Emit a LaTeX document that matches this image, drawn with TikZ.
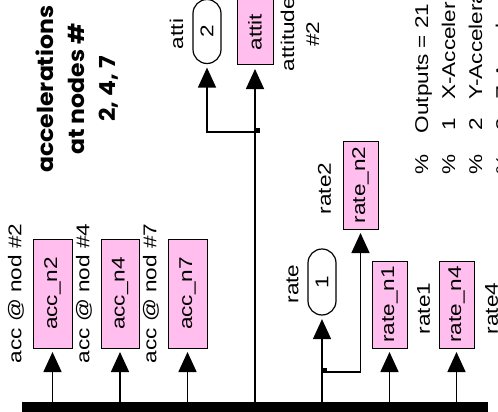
\documentclass[tikz,border=0pt]{standalone}
\usepackage{fontspec}
\usepackage{graphicx}
\setmainfont{Liberation Sans}
\newfontfamily\notefont{Poppins}
\usetikzlibrary{arrows.meta,calc}
\definecolor{gotopink}{RGB}{255,190,238}
\newcommand{\sx}[1]{\scalebox{1.22}[1]{#1}}
\newcommand{\tx}[1]{\scalebox{1.07}[1]{#1}}

\tikzset{
  goto/.style={draw,line width=1pt,fill=gotopink,rotate=90,inner sep=0pt,
    font=\fontsize{18.5}{22}\selectfont},
  outport/.style={draw,line width=1.2pt,rounded corners=14pt,rotate=90,inner sep=0pt,
    minimum width=64pt,minimum height=28pt,font=\fontsize{18.5}{22}\selectfont},
  lbl/.style={rotate=90,inner sep=0pt,font=\fontsize{18.5}{25}\selectfont},
  sig/.style={line width=1.5pt,-{Triangle[length=20pt,width=18pt]},shorten >=3.5pt},
  jdot/.style={fill=black,inner sep=0pt,minimum size=5pt,xshift=2pt,yshift=2pt}
}

\begin{document}
\begin{tikzpicture}[x=1pt,y=-1pt]
    \clip (0,0) rectangle (498,412);
    % bus
    \node[fill=black,minimum width=466pt,minimum height=11pt,inner sep=0pt] (bus) at (255,407.5) {};
    % goto blocks
    \node[goto,minimum width=109pt,minimum height=39pt] (accn2) at (52.5,293.5) {\sx{acc\_n2}};
    \node[goto,minimum width=109pt,minimum height=38pt] (accn4) at (120,293.5) {\sx{acc\_n4}};
    \node[goto,minimum width=109pt,minimum height=39pt] (accn7) at (187.5,293.5) {\sx{acc\_n7}};
    \node[goto,minimum width=66pt,minimum height=36pt] (attit) at (255,32) {\sx{attit}};
    \node[goto,minimum width=88pt,minimum height=35pt] (ratn2) at (360.5,185) {\sx{rate\_n2}};
    \node[goto,minimum width=87pt,minimum height=35pt] (ratn1) at (389.5,304.5) {\sx{rate\_n1}};
    \node[goto,minimum width=87pt,minimum height=35pt] (ratn4) at (456.5,304.5) {\sx{rate\_n4}};
    % outports
    \node[outport] (atti) at (207,31.5) {\sx{2}};
    \node[outport,minimum width=66pt] (rate) at (322,282) {\sx{1}};
    % labels
    \node[lbl] (lacc2) at (16,293.5) {\sx{acc @ nod \#2}};
    \node[lbl] (lacc4) at (84,293.5) {\sx{acc @ nod \#4}};
    \node[lbl] (lacc7) at (151,293.5) {\sx{acc @ nod \#7}};
    \node[lbl] (latti) at (176.5,34) {\sx{atti}};
    \node[lbl,align=center] (lattit) at (300,34) {\sx{attitude}\\\sx{\#2}};
    \node[lbl] (lrate) at (292.5,284) {\sx{rate}};
    \node[lbl] (lrat2) at (324.5,188.5) {\sx{rate2}};
    \node[lbl] (lrat1) at (423.5,308.5) {\sx{rate1}};
    \node[lbl] (lrat4) at (491.5,308.5) {\sx{rate4}};
    % note text
    \node[rotate=90,inner sep=0pt,align=center,font=\notefont\bfseries\fontsize{22}{31}\selectfont]
      (title) at (77,89) {\tx{accelerations}\\\tx{at nodes \#}\\\tx{2, 4, 7}};
    \node[lbl,anchor=base west] (out0) at (428,175) {\sx{\makebox[34pt][l]{\%}Outputs = 21}};
    \node[lbl,anchor=base west] (out1) at (455,175) {\sx{\makebox[36pt][l]{\%}\makebox[25.5pt][l]{1}X-Acceleration}};
    \node[lbl,anchor=base west] (out2) at (482,175) {\sx{\makebox[36pt][l]{\%}\makebox[25.5pt][l]{2}Y-Acceleration}};
    \node[lbl,anchor=base west] (out3) at (509,175) {\sx{\makebox[36pt][l]{\%}\makebox[25.5pt][l]{3}Z-Acceleration}};
    % signals
    \draw[sig] (accn2.west |- bus.north) -- (accn2.west);
    \draw[sig] (accn4.west |- bus.north) -- (accn4.west);
    \draw[sig] (accn7.west |- bus.north) -- (accn7.west);
    \draw[sig] (ratn1.west |- bus.north) -- (ratn1.west);
    \draw[sig] (ratn4.west |- bus.north) -- (ratn4.west);
    \draw[sig] (attit.west |- bus.north) -- (attit.west);
    \draw[sig] (rate.west |- bus.north) -- (rate.west);
    \coordinate (j1) at (attit.west |- 0,132);
    \coordinate (j2) at (rate.west |- 0,372);
    \draw[sig] (j1) -| (atti.west);
    \draw[sig] (j2) -| (ratn2.west);
    \node[jdot] (d1) at (j1) {};
    \node[jdot] (d2) at (j2) {};
\end{tikzpicture}
\end{document}
